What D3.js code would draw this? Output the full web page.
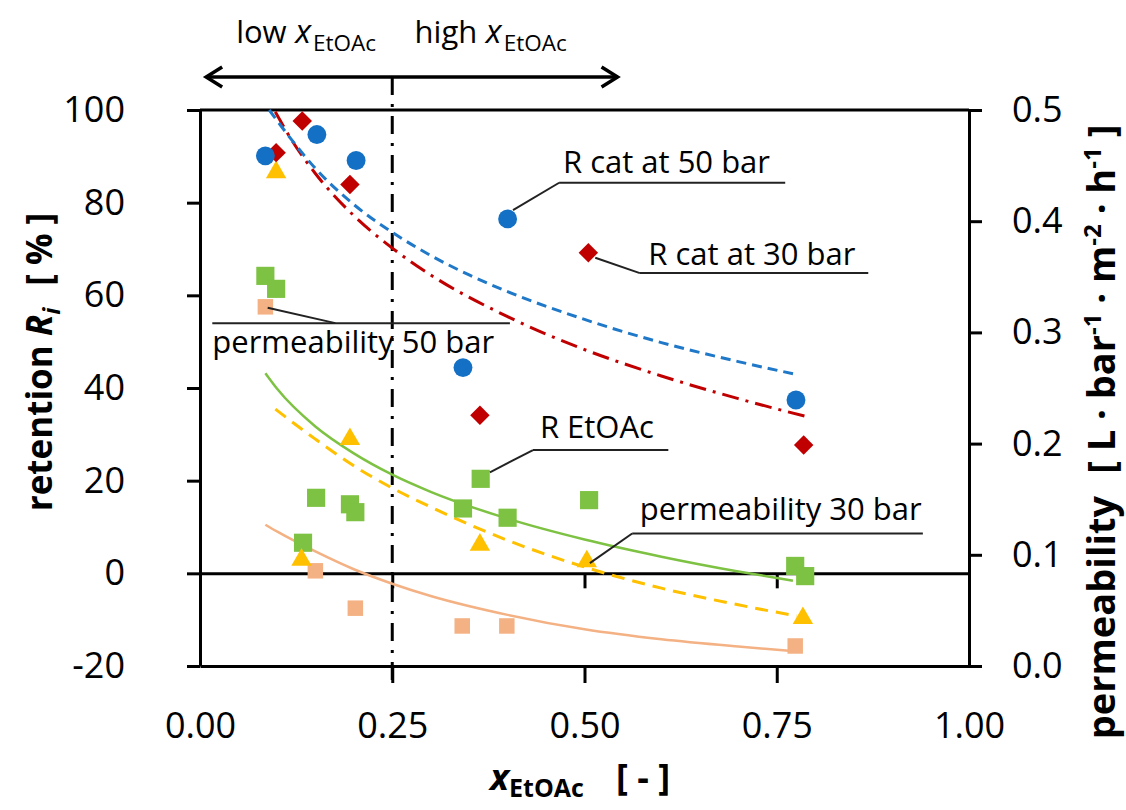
<!DOCTYPE html>
<html>
<head>
<meta charset="utf-8">
<script src="https://cdn.jsdelivr.net/npm/d3@7"></script>
<style>
  body { margin: 0; background: #fff; }
  text { font-family: "Open Sans", sans-serif; fill: #000; }
</style>
</head>
<body>
<div class="container"></div>
<script>
// measured points: [x EtOAc, value]
const catR50 = [[0.085, 90.1], [0.152, 94.7], [0.203, 89.1], [0.342, 44.4], [0.40, 76.5], [0.775, 37.4]]
const catR30 = [[0.099, 90.8], [0.133, 97.6], [0.195, 83.9], [0.364, 34.1], [0.505, 69.2], [0.785, 27.7]]
const etoacR = [[0.085, 64.2], [0.099, 61.4], [0.134, 6.6], [0.151, 16.3], [0.195, 14.9], [0.202, 13.2],
                [0.342, 14.0], [0.365, 20.4], [0.40, 12.0], [0.506, 15.8], [0.774, 1.6], [0.787, -0.6]]
const perm30 = [[0.099, 0.444], [0.132, 0.0955], [0.195, 0.204], [0.364, 0.109], [0.503, 0.094], [0.784, 0.043]]
const perm50 = [[0.085, 0.323], [0.150, 0.0856], [0.202, 0.052], [0.341, 0.036], [0.399, 0.036], [0.774, 0.018]]

// fitted trend lines
const fitCat50 = [[0.09, 100], [0.12, 93.4], [0.15, 87.4], [0.2, 79.6], [0.25, 73.6], [0.3, 68.6], [0.35, 64.4],
                  [0.4, 60.8], [0.5, 54.8], [0.6, 49.8], [0.7, 45.7], [0.776, 42.9]]
const fitCat30 = [[0.098, 99.6], [0.12, 93.3], [0.15, 86.3], [0.2, 77.2], [0.25, 70.2], [0.3, 64.4],
                  [0.4, 55.4], [0.5, 48.3], [0.6, 42.6], [0.7, 37.7], [0.787, 33.9]]
const fitEtoac = [[0.085, 43.2], [0.1, 39.9], [0.15, 31.7], [0.2, 25.9], [0.25, 21.3], [0.3, 17.6],
                  [0.4, 11.8], [0.5, 7.3], [0.6, 3.6], [0.7, 0.4], [0.771, -1.6]]
const fitPerm30 = [[0.098, 0.231], [0.15, 0.204], [0.2, 0.180], [0.25, 0.160], [0.3, 0.143], [0.4, 0.113],
                   [0.5, 0.089], [0.6, 0.070], [0.7, 0.055], [0.776, 0.045]]
const fitPerm50 = [[0.085, 0.127], [0.1, 0.121], [0.15, 0.103], [0.2, 0.087], [0.25, 0.074], [0.3, 0.063],
                   [0.4, 0.046], [0.5, 0.033], [0.6, 0.024], [0.7, 0.0175], [0.771, 0.0135]]

const xTicks = [0, 0.25, 0.5, 0.75, 1]
const yLeftTicks = [-20, 0, 20, 40, 60, 80, 100]
const yRightTicks = [0, 0.1, 0.2, 0.3, 0.4, 0.5]

const width = 1126
const height = 810

const x = d3.scaleLinear().domain([0, 1]).range([200, 969])
const yL = d3.scaleLinear().domain([-20, 100]).range([666, 110])
const yR = d3.scaleLinear().domain([0, 0.5]).range([666, 110])

const svg = d3.select(".container").append("svg")
    .attr("width", width)
    .attr("height", height)

// separator between low / high EtOAc region
svg.append("line")
    .attr("x1", x(0.25)).attr("x2", x(0.25))
    .attr("y1", yL(107.1)).attr("y2", yL(-23.7))
    .attr("stroke", "#000").attr("stroke-width", 3)
    .attr("stroke-dasharray", "18,9,3,9")

// double arrow on top
const arrowY = yL(107.1)
svg.append("line")
    .attr("x1", x(0.008)).attr("x2", x(0.543))
    .attr("y1", arrowY).attr("y2", arrowY)
    .attr("stroke", "#000").attr("stroke-width", 3.5)
svg.append("path")
    .attr("d", `M${x(0.008) + 16},${arrowY - 10} L${x(0.008)},${arrowY} L${x(0.008) + 16},${arrowY + 10}
                M${x(0.543) - 16},${arrowY - 10} L${x(0.543)},${arrowY} L${x(0.543) - 16},${arrowY + 10}`)
    .attr("fill", "none").attr("stroke", "#000").attr("stroke-width", 3.5)

function subLabel(g, px, py, main, sub) {
    const t = g.append("text").attr("x", px).attr("y", py).attr("font-size", 31)
    t.append("tspan").text(main)
    t.append("tspan").attr("font-style", "italic").attr("font-size", 33).text(" x")
    t.append("tspan").attr("font-size", 22.5).attr("dy", 8).attr("dx", 2).text(sub)
}
subLabel(svg, x(0.047), yL(114.5), "low", "EtOAc")
subLabel(svg, x(0.279), yL(114.5), "high", "EtOAc")

// axes
const axisStyle = g => {
    g.selectAll("path, line").attr("stroke", "#000").attr("stroke-width", 3)
    g.selectAll("text").attr("font-size", 36).attr("font-family", "Open Sans")
}

svg.append("g")
    .attr("transform", `translate(${x(0)},0)`)
    .call(d3.axisLeft(yL).tickValues(yLeftTicks).tickSize(13).tickSizeOuter(0).tickPadding(62).tickFormat(d => String(d)))
    .call(axisStyle)

svg.append("g")
    .attr("transform", `translate(${x(1)},0)`)
    .call(d3.axisRight(yR).tickValues(yRightTicks).tickSize(13).tickSizeOuter(0).tickPadding(30).tickFormat(d => d.toFixed(1)))
    .call(axisStyle)

const xBottom = svg.append("g")
    .attr("transform", `translate(0,${yL(-20)})`)
    .call(d3.axisBottom(x).tickValues(xTicks).tickSize(17).tickSizeOuter(0).tickPadding(29).tickFormat(d => d.toFixed(2)))
    .call(axisStyle)
xBottom.selectAll(".tick line").filter(d => d === 0 || d === 1).remove()

svg.append("g")
    .attr("transform", `translate(0,${yL(0)})`)
    .call(d3.axisBottom(x).tickValues(xTicks.slice(1, 4)).tickSize(15).tickSizeOuter(0).tickFormat(""))
    .call(axisStyle)

// top frame
svg.append("line")
    .attr("x1", x(0)).attr("x2", x(1))
    .attr("y1", yL(100)).attr("y2", yL(100))
    .attr("stroke", "#000").attr("stroke-width", 3)

// trend lines
const lineL = d3.line().x(d => x(d[0])).y(d => yL(d[1])).curve(d3.curveMonotoneX)
const lineR = d3.line().x(d => x(d[0])).y(d => yR(d[1])).curve(d3.curveMonotoneX)

const fits = [
    { data: fitPerm50, line: lineR, color: "#F4B183", dash: null, w: 2.5 },
    { data: fitPerm30, line: lineR, color: "#FFC000", dash: "13,8", w: 3 },
    { data: fitEtoac, line: lineL, color: "#7DC243", dash: null, w: 2.5 },
    { data: fitCat30, line: lineL, color: "#C00000", dash: "17,7,3,7", w: 3 },
    { data: fitCat50, line: lineL, color: "#1F78C8", dash: "10,6", w: 3 }
]
fits.forEach(f => {
    svg.append("path")
        .attr("d", f.line(f.data))
        .attr("fill", "none")
        .attr("stroke", f.color)
        .attr("stroke-width", f.w)
        .attr("stroke-dasharray", f.dash)
})

// markers
function drawPoints(data, yScale, type, size, color, rotate) {
    svg.append("g").selectAll("path")
        .data(data)
        .enter()
        .append("path")
        .attr("d", d3.symbol().type(type).size(size))
        .attr("transform", d => `translate(${x(d[0])},${yScale(d[1])}) rotate(${rotate})`)
        .attr("fill", color)
}
drawPoints(perm50, yR, d3.symbolSquare, 240, "#F4B183", 0)
drawPoints(etoacR, yL, d3.symbolSquare, 330, "#7DC243", 0)
drawPoints(perm30, yR, d3.symbolTriangle, 180, "#FFC000", 0)
drawPoints(catR30, yL, d3.symbolSquare, 190, "#C00000", 45)
drawPoints(catR50, yL, d3.symbolCircle, 280, "#1470C4", 0)

// callout labels: text position, rule line, leader line (data units of left axis)
const notes = [
    { text: "R cat at 50 bar", tx: 0.472, ty: 86.4, rule: [0.467, 0.761, 84.3], tip: [0.407, 78.4] },
    { text: "R cat at 30 bar", tx: 0.583, ty: 66.5, rule: [0.572, 0.869, 64.8], tip: [0.514, 68.1] },
    { text: "permeability 50 bar", tx: 0.016, ty: 47.5, rule: [0.016, 0.403, 54.0], tip: [0.088, 57.3], lead: 0.176 },
    { text: "R EtOAc", tx: 0.442, ty: 29.2, rule: [0.433, 0.609, 26.6], tip: [0.377, 21.8] },
    { text: "permeability 30 bar", tx: 0.572, ty: 11.5, rule: [0.562, 0.94, 8.6], tip: [0.507, 2.2] }
]
notes.forEach(n => {
    svg.append("line")
        .attr("x1", x(n.rule[0])).attr("x2", x(n.rule[1]))
        .attr("y1", yL(n.rule[2])).attr("y2", yL(n.rule[2]))
        .attr("stroke", "#222").attr("stroke-width", 2)
    const from = n.lead !== undefined ? n.lead : n.rule[0]
    svg.append("line")
        .attr("x1", x(from)).attr("y1", yL(n.rule[2]))
        .attr("x2", x(n.tip[0])).attr("y2", yL(n.tip[1]))
        .attr("stroke", "#222").attr("stroke-width", 2)
    svg.append("text")
        .attr("x", x(n.tx)).attr("y", yL(n.ty))
        .attr("font-size", 31)
        .text(n.text)
})

// axis titles
const leftTitle = svg.append("text")
    .attr("transform", `translate(52,362) rotate(-90)`)
    .attr("text-anchor", "middle")
    .attr("font-size", 35)
    .attr("font-weight", "bold")
leftTitle.append("tspan").text("retention ")
leftTitle.append("tspan").attr("font-style", "italic").text("R")
leftTitle.append("tspan").attr("font-style", "italic").attr("font-size", 24).attr("dy", 8).text("i")
leftTitle.append("tspan").attr("dy", -8).attr("dx", 22).text("[ % ]")

const rightTitle = svg.append("text")
    .attr("transform", `translate(1115,432) rotate(-90)`)
    .attr("text-anchor", "middle")
    .attr("font-size", 38)
    .attr("font-weight", "bold")
rightTitle.append("tspan").text("permeability")
rightTitle.append("tspan").attr("dx", 22).text("[ L · bar")
rightTitle.append("tspan").attr("font-size", 24).attr("dy", -14).text("-1")
rightTitle.append("tspan").attr("dy", 14).text(" · m")
rightTitle.append("tspan").attr("font-size", 24).attr("dy", -14).text("-2")
rightTitle.append("tspan").attr("dy", 14).text(" · h")
rightTitle.append("tspan").attr("font-size", 24).attr("dy", -14).text("-1")
rightTitle.append("tspan").attr("dy", 14).text(" ]")

const bottomTitle = svg.append("text")
    .attr("x", 490).attr("y", 790)
    .attr("font-size", 36)
    .attr("font-weight", "bold")
bottomTitle.append("tspan").attr("font-style", "italic").text("x")
bottomTitle.append("tspan").attr("font-size", 25).attr("dy", 7).text("EtOAc")
bottomTitle.append("tspan").attr("dy", -7).attr("dx", 32).text("[ - ]")
</script>
</body>
</html>
